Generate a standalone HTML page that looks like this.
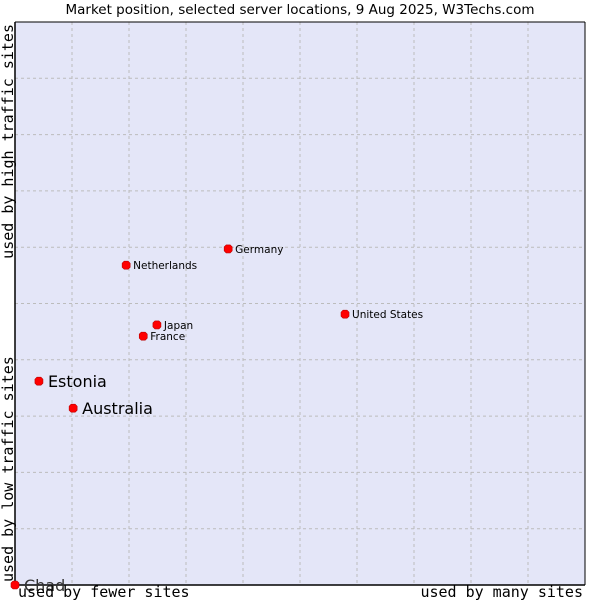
<!DOCTYPE html>
<html><head><meta charset="utf-8"><style>
body{margin:0;background:#fff;width:600px;height:600px;overflow:hidden}
svg{display:block}
</style></head><body>
<svg width="600" height="600" xmlns="http://www.w3.org/2000/svg">
<text x="300" y="14" text-anchor="middle" font-family="DejaVu Sans, sans-serif" font-size="13.5" fill="#000">Market position, selected server locations, 9 Aug 2025, W3Techs.com</text>
<rect x="15" y="22" width="570" height="563" fill="#e4e6f8"/>
<g id="grid"></g>
<line x1="15" y1="22" x2="15" y2="585" stroke="#000" stroke-width="1.5"/>
<line x1="15" y1="585" x2="585" y2="585" stroke="#000" stroke-width="1.5"/>
<line x1="15" y1="22" x2="585" y2="22" stroke="#000" stroke-width="1"/>
<line x1="585" y1="22" x2="585" y2="585" stroke="#000" stroke-width="1"/>
<g id="points"></g>
<text x="18" y="597" font-family="DejaVu Sans Mono, monospace" font-size="15">used by fewer sites</text>
<text x="583" y="597" text-anchor="end" font-family="DejaVu Sans Mono, monospace" font-size="15">used by many sites</text>
<text transform="translate(13,582) rotate(-90)" font-family="DejaVu Sans Mono, monospace" font-size="15">used by low traffic sites</text>
<text transform="translate(13,24) rotate(-90)" text-anchor="end" font-family="DejaVu Sans Mono, monospace" font-size="15">used by high traffic sites</text>
</svg>
<script>
const names=["Chad","Estonia","Australia","Netherlands","Germany","Japan","France","United States"];
const xVals=[0,4.2,10.2,19.5,37.4,24.9,22.5,57.9];
const yVals=[0,36.2,31.4,56.8,59.7,46.2,44.2,48.1];
const bigLabel=[true,true,true,false,false,false,false,false];
const NS="http://www.w3.org/2000/svg";
const X=v=>15+v*5.7, Y=v=>585-v*5.63;
const grid=document.getElementById('grid');
for(let i=1;i<10;i++){
 let l=document.createElementNS(NS,'line');
 l.setAttribute('x1',X(i*10));l.setAttribute('x2',X(i*10));l.setAttribute('y1',22);l.setAttribute('y2',585);
 l.setAttribute('stroke','#bcbcbc');l.setAttribute('stroke-dasharray','3,3');
 
 
 grid.appendChild(l);
 let h=document.createElementNS(NS,'line');
 h.setAttribute('x1',15);h.setAttribute('x2',585);h.setAttribute('y1',Y(i*10));h.setAttribute('y2',Y(i*10));
 h.setAttribute('stroke','#bcbcbc');h.setAttribute('stroke-dasharray','3,3');
 
 
 grid.appendChild(h);
}
const pts=document.getElementById('points');
names.forEach((n,i)=>{
 const cx=X(xVals[i]),cy=Y(yVals[i]);
 const d=document.createElementNS(NS,'path');
 d.setAttribute('d',`M${cx-2} ${cy-4}L${cx+2} ${cy-4}L${cx+4} ${cy-2}L${cx+4} ${cy+2}L${cx+2} ${cy+4}L${cx-2} ${cy+4}L${cx-4} ${cy+2}L${cx-4} ${cy-2}Z`);
 d.setAttribute('fill','#f00');d.setAttribute('stroke','#b00');d.setAttribute('stroke-width','0.6');
 
 
 pts.appendChild(d);
 const t=document.createElementNS(NS,'text');
 const big=bigLabel[i];
 t.setAttribute('x',cx+(big?9:7));t.setAttribute('y',cy+(big?6:4));
 t.setAttribute('font-family','DejaVu Sans, sans-serif');
 t.setAttribute('font-size',big?'16':'10.5');
 t.setAttribute('fill',n==="Chad"?'#333':'#000');
 t.textContent=n;
 
 
 pts.appendChild(t);
});
</script>
</body></html>
